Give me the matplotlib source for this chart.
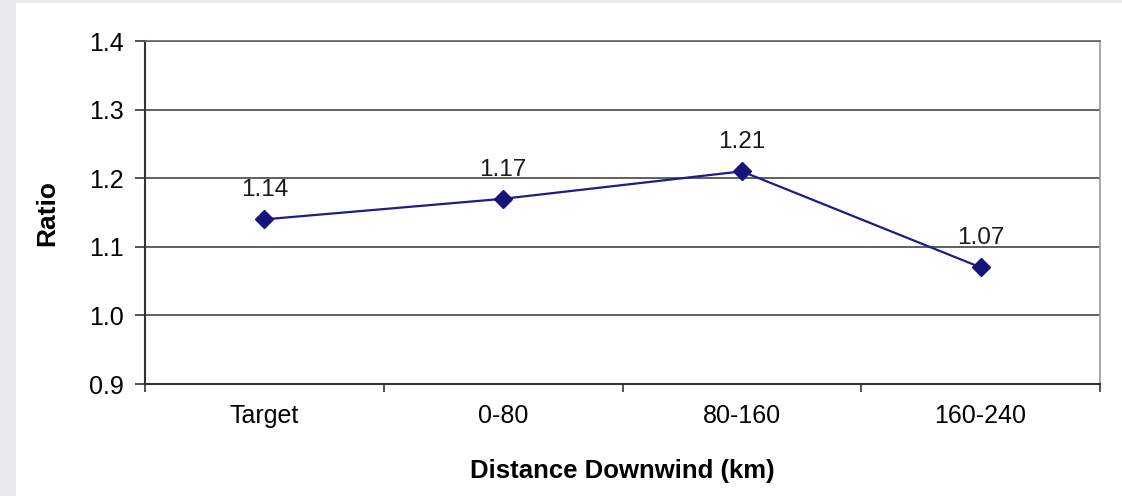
import matplotlib
matplotlib.use("Agg")
import matplotlib.pyplot as plt
from matplotlib.patches import Rectangle

categories = ["Target", "0-80", "80-160", "160-240"]
ratios = [1.14, 1.17, 1.21, 1.07]
y_ticks = [0.9, 1.0, 1.1, 1.2, 1.3, 1.4]

plt.rcParams['font.family'] = ['Liberation Sans', 'DejaVu Sans']

W, H = 1122, 496
fig = plt.figure(figsize=(W / 100, H / 100), dpi=100)
fig.patch.set_facecolor('#e9eaee')
fig.patches.append(Rectangle((16 / W, 0), 1 - 16 / W, 1 - 3 / H, transform=fig.transFigure,
                             facecolor='white', edgecolor='none', zorder=-10))

left, right, top, bottom = 145, 1100, 41, 384
ax = fig.add_axes([left / W, 1 - bottom / H, (right - left) / W, (bottom - top) / H])
ax.set_zorder(5)
ax.set_facecolor('white')

x = list(range(len(categories)))
ax.plot(x, ratios, color='#1c1c8a', lw=1.6, marker='D', ms=9, mfc='#14147a', mec='#14147a', zorder=3)
for xi, v in zip(x, ratios):
    ax.annotate(f"{v:.2f}", (xi, v), xytext=(0, 16.5), textcoords='offset points',
                ha='center', va='baseline', fontsize=17.5, color='#1a1a1a')

ax.set_xlim(-0.5, len(categories) - 0.5)
ax.set_ylim(0.9, 1.4)
ax.set_yticks(y_ticks)
ax.set_yticklabels([f"{t:.1f}" for t in y_ticks], fontsize=18)
ax.yaxis.grid(True, color='#444444', lw=1.2)
ax.set_axisbelow(True)

ax.set_xticks(x)
ax.set_xticklabels(categories, fontsize=18)
ax.set_xticks([i - 0.5 for i in range(len(categories) + 1)], minor=True)
ax.tick_params(axis='x', which='major', length=0, pad=14.5)
ax.tick_params(axis='x', which='minor', length=6, width=1.2, color='#333333', direction='out')
ax.tick_params(axis='y', length=7, width=1.2, color='#333333', pad=8)

for s in ['left', 'bottom']:
    ax.spines[s].set_color('#333333')
    ax.spines[s].set_linewidth(1.5)
ax.spines['right'].set_color('#999999')
ax.spines['right'].set_linewidth(1.2)
ax.spines['top'].set_color('#666666')
ax.spines['top'].set_linewidth(1.2)

ax.set_ylabel("Ratio", fontsize=19, fontweight='bold', labelpad=22)
ax.set_xlabel("Distance Downwind (km)", fontsize=18.5, fontweight='bold', labelpad=22)

fig.savefig("out.png", dpi=100, facecolor=fig.get_facecolor())
